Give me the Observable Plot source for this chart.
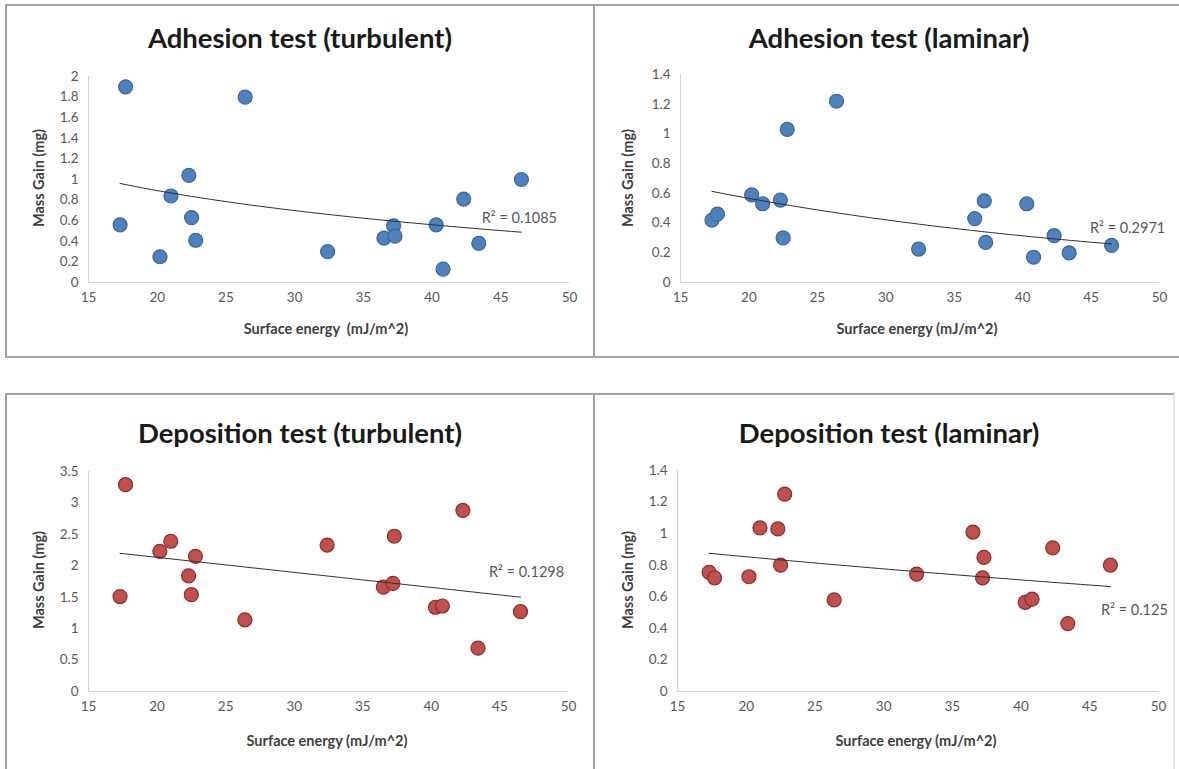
<!DOCTYPE html>
<html>
<head>
<meta charset="utf-8">
<script src="https://cdn.jsdelivr.net/npm/d3@7"></script>
<script src="https://cdn.jsdelivr.net/npm/@observablehq/plot@0.6"></script>
<style>
  html, body { margin: 0; padding: 0; background: #fff; }
  #page { position: relative; width: 1179px; height: 769px; overflow: hidden; background: #fff; font-family: Lato, "Open Sans", sans-serif; }
  .box { position: absolute; box-sizing: border-box; border: 2px solid #a3a3a3; }
  .lbl { position: absolute; transform: translate(-50%, -50%); white-space: pre; }
  .title { font-weight: 700; font-size: 27.5px; color: #1a1a1a; }
  .axt { font-weight: 700; font-size: 14.5px; color: #404040; }
  .plot { position: absolute; }
</style>
</head>
<body>
<div id="page"></div>
<script>
// ---- data ----
const surfaceEnergy = [17.3, 17.7, 20.2, 21.0, 22.3, 22.5, 22.8, 26.4, 32.4, 36.5, 37.2, 37.3, 40.3, 40.8, 42.3, 43.4, 46.5];
const adhesionTurbulent   = [0.56, 1.90, 0.25, 0.84, 1.04, 0.63, 0.41, 1.80, 0.30, 0.43, 0.55, 0.45, 0.56, 0.13, 0.81, 0.38, 1.00];
const adhesionLaminar     = [0.42, 0.46, 0.59, 0.53, 0.555, 0.30, 1.03, 1.22, 0.225, 0.43, 0.55, 0.27, 0.53, 0.17, 0.315, 0.20, 0.25];
const depositionTurbulent = [1.51, 3.29, 2.23, 2.39, 1.84, 1.54, 2.15, 1.14, 2.33, 1.66, 1.72, 2.47, 1.34, 1.36, 2.88, 0.69, 1.27];
const depositionLaminar   = [0.755, 0.72, 0.727, 1.036, 1.03, 0.80, 1.25, 0.58, 0.744, 1.01, 0.72, 0.85, 0.565, 0.585, 0.91, 0.43, 0.80];

const panelTitles = ["Adhesion test (turbulent)", "Adhesion test (laminar)", "Deposition test (turbulent)", "Deposition test (laminar)"];
const xTitles = ["Surface energy \u00a0(mJ/m^2)", "Surface energy (mJ/m^2)", "Surface energy (mJ/m^2)", "Surface energy (mJ/m^2)"];
const yTitle = "Mass Gain (mg)";
const r2Labels = ["R\u00b2 = 0.1085", "R\u00b2 = 0.2971", "R\u00b2 = 0.1298", "R\u00b2 = 0.125"];
const trendTypes = ["log", "exp", "linear", "exp"];
const xTicks = [15, 20, 25, 30, 35, 40, 45, 50];
const yTicksA = [0, 0.2, 0.4, 0.6, 0.8, 1, 1.2, 1.4, 1.6, 1.8, 2];
const yTicksB = [0, 0.2, 0.4, 0.6, 0.8, 1, 1.2, 1.4];
const yTicksC = [0, 0.5, 1, 1.5, 2, 2.5, 3, 3.5];

// ---- helpers ----
// least-squares trendline of the given type (as spreadsheet trendlines are computed)
function trend(xs, ys, type) {
  const tx = type === "log" ? xs.map(Math.log) : xs;
  const ty = type === "exp" ? ys.map(Math.log) : ys;
  const mx = d3.mean(tx), my = d3.mean(ty);
  let sxy = 0, sxx = 0;
  tx.forEach((v, i) => { sxy += (v - mx) * (ty[i] - my); sxx += (v - mx) ** 2; });
  const b = sxy / sxx, a = my - b * mx;
  const f = x => type === "log" ? a + b * Math.log(x) : type === "exp" ? Math.exp(a + b * x) : a + b * x;
  const [x0, x1] = d3.extent(xs);
  return d3.range(0, 41).map(i => { const x = x0 + (x1 - x0) * i / 40; return {x, y: f(x)}; });
}

const page = document.getElementById("page");
function addDiv(cls, text, left, top, extra) {
  const d = document.createElement("div");
  d.className = cls;
  d.textContent = text;
  d.style.left = left + "px";
  d.style.top = top + "px";
  if (extra) Object.assign(d.style, extra);
  page.appendChild(d);
  return d;
}

// panel frames
[[5, 4, 590, 354], [593, 4, 600, 354], [5, 393, 590, 400], [593, 393, 582, 400]].forEach(([l, t, w, h], i) => {
  const b = document.createElement("div");
  b.className = "box";
  Object.assign(b.style, {left: l + "px", top: t + "px", width: w + "px", height: h + "px"});
  if (i === 3) b.style.borderRightColor = "#e6e6e6";
  page.appendChild(b);
});

const panels = [
  {values: adhesionTurbulent, yTicks: yTicksA, ymax: 2, fill: "#4f81bd", stroke: "#3c6698",
   svg: [6, 5, 588, 352], m: [71, 25, 75, 82], title: [300, 37], xt: [326, 328], yt: [38, 178], r2: [-2, -14]},
  {values: adhesionLaminar, yTicks: yTicksB, ymax: 1.4, fill: "#4f81bd", stroke: "#3c6698",
   svg: [596, 5, 583, 352], m: [69, 20, 75, 84], title: [889, 37], xt: [917, 328], yt: [627, 178], r2: [16, -16]},
  {values: depositionTurbulent, yTicks: yTicksC, ymax: 3.5, fill: "#c0504d", stroke: "#8c2d2a",
   svg: [6, 395, 588, 374], m: [76, 26, 78, 82], title: [300, 432], xt: [327, 740], yt: [38, 580], r2: [6, -25]},
  {values: depositionLaminar, yTicks: yTicksB, ymax: 1.4, fill: "#c0504d", stroke: "#8c2d2a",
   svg: [596, 395, 583, 374], m: [75, 21, 78, 81], title: [889, 432], xt: [916, 740], yt: [627, 580], r2: [24, 24]}
];

panels.forEach((p, i) => {
  const pts = surfaceEnergy.map((x, k) => ({x, y: p.values[k]}));
  const fit = trend(surfaceEnergy, p.values, trendTypes[i]);
  const last = fit[fit.length - 1];
  const [left, top, width, height] = p.svg;
  const [mt, mr, mb, ml] = p.m;
  const chart = Plot.plot({
    width, height,
    marginTop: mt, marginRight: mr, marginBottom: mb, marginLeft: ml,
    style: {fontFamily: "Lato, 'Open Sans', sans-serif", fontSize: "13.5px", color: "#595959", background: "transparent", overflow: "visible"},
    x: {domain: [15, 50], ticks: xTicks, tickSize: 0, tickPadding: 10, label: null, tickFormat: d => String(d)},
    y: {domain: [0, p.ymax], ticks: p.yTicks, tickSize: 0, tickPadding: 10, label: null, tickFormat: d => String(d)},
    marks: [
      Plot.ruleY([0], {stroke: "#d4d4d4", strokeWidth: 1.2}),
      Plot.ruleX([15], {stroke: "#d4d4d4", strokeWidth: 1.2}),
      Plot.dot(pts, {x: "x", y: "y", r: 7, fill: p.fill, stroke: p.stroke, strokeWidth: 1.2}),
      Plot.line(fit, {x: "x", y: "y", stroke: "#303030", strokeWidth: 1}),
      Plot.text([last], {x: "x", y: "y", text: () => r2Labels[i], dx: p.r2[0], dy: p.r2[1], fill: "#595959", fontSize: 14.5, textAnchor: "middle"})
    ]
  });
  chart.classList.add("plot");
  chart.style.left = left + "px";
  chart.style.top = top + "px";
  page.appendChild(chart);
  addDiv("lbl title", panelTitles[i], p.title[0], p.title[1]);
  addDiv("lbl axt", xTitles[i], p.xt[0], p.xt[1]);
  addDiv("lbl axt", yTitle, p.yt[0], p.yt[1], {transform: "translate(-50%, -50%) rotate(-90deg)"});
});
</script>
</body>
</html>
